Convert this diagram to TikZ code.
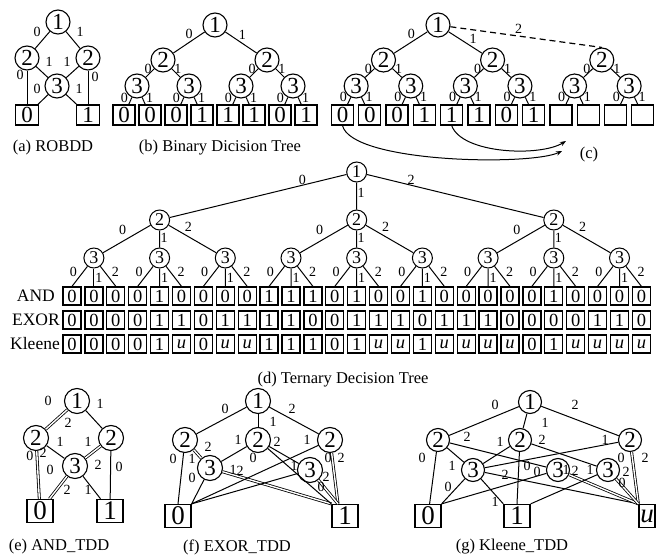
\documentclass[tikz,border=0pt]{standalone}
\usepackage{fontspec}
\setmainfont{Liberation Serif}
\usetikzlibrary{arrows.meta}
\newcommand\fbig{\fontsize{23}{23}\selectfont}
\newcommand\fmid{\fontsize{18}{18}\selectfont}
\newcommand\fcell{\fontsize{18.5}{18.5}\selectfont}
\newcommand\flab{\fontsize{14}{14}\selectfont}
\newcommand\fcap{\fontsize{16.5}{16.5}\selectfont}
\newcommand\fleaf{\fontsize{27}{27}\selectfont}
\newcommand\frow{\fontsize{17.5}{17.5}\selectfont}
\newcommand\uu{\textit{u}}
\tikzset{
  vA/.style={circle,draw,line width=1.1pt,minimum size=24pt,inner sep=0pt,font=\fbig},
  bA/.style={rectangle,draw,line width=1.3pt,minimum width=22pt,minimum height=20pt,inner sep=0pt,font=\fbig},
  vD/.style={circle,draw,line width=1pt,minimum size=20pt,inner sep=0pt,font=\fmid},
  cD/.style={rectangle,draw,line width=1.3pt,minimum width=18pt,minimum height=18pt,inner sep=0pt,font=\fcell},
  vE/.style={circle,draw,line width=1.1pt,minimum size=25pt,inner sep=0pt,font=\fbig},
  vG/.style={vE,minimum size=23pt},
  bE/.style={rectangle,draw,line width=1.3pt,minimum width=26pt,minimum height=23pt,inner sep=0pt,font=\fleaf},
  ed/.style={line width=1pt},
  dbl/.style={double,double distance=1.4pt,line width=0.8pt},
  el/.style={font=\flab,inner sep=0.5pt},
  captxt/.style={font=\fcap,inner sep=0pt},
  rowl/.style={font=\frow,inner sep=0pt,anchor=east},
  arr/.style={line width=1pt,-{Stealth[length=6pt,width=4.5pt]}},
}
\begin{document}
\begin{tikzpicture}[x=1pt,y=-1pt]
\useasboundingbox (0,0) rectangle (656,559);

% ---------- (a) ROBDD ----------
\node[vA] (a1) at (58,22) {1};
\node[vA] (a2l) at (27,58) {2};
\node[vA] (a2r) at (88,58) {2};
\node[vA] (a3) at (57,86) {3};
\node[bA,minimum width=23pt] (a0) at (27,115) {0};
\node[bA,minimum width=23pt] (a1b) at (88,115) {1};
\draw[ed] (a1) -- (a2l);
\draw[ed] (a1) -- (a2r);
\draw[ed] (a2l) -- (a3);
\draw[ed] (a2r) -- (a3);
\draw[ed] (a2l) -- (a0);
\draw[ed] (a2r) -- (a1b);
\draw[ed] (a3) -- (a0);
\draw[ed] (a3) -- (a1b);
\node[el] (la1) at (37,32) {0};
\node[el] (la2) at (80,32) {1};
\node[el] (la3) at (49,62) {1};
\node[el] (la4) at (67,62) {1};
\node[el] (la5) at (20,75) {0};
\node[el] (la6) at (95,77) {0};
\node[el] (la7) at (37,89) {0};
\node[el] (la8) at (79,89) {1};
\node[captxt] (capa) at (53,148) {(a) ROBDD};

% ---------- (b) Binary decision tree ----------
\foreach \v [count=\i from 0] in {0,0,0,1,1,1,0,1}
  \node[bA] (bb\i) at ({124+26*\i},115) {\v};
\node[vA] (b1) at (215,25) {1};
\node[vA] (b20) at (163,60) {2};
\node[vA] (b21) at (267,60) {2};
\foreach \k in {0,...,3} \node[vA] (b3\k) at ({137+52*\k},86) {3};
\draw[ed] (b1) -- node[el,pos=.35,above left]{0} (b20);
\draw[ed] (b1) -- node[el,pos=.4,above right]{1} (b21);
\foreach \j [evaluate=\j as \ia using int(2*\j), evaluate=\j as \ib using int(2*\j+1)] in {0,1} {
  \draw[ed] (b2\j) -- node[el,pos=.05,left=1pt]{0} (b3\ia);
  \draw[ed] (b2\j) -- node[el,pos=.05,right=1pt]{1} (b3\ib);
}
\foreach \k [evaluate=\k as \ia using int(2*\k), evaluate=\k as \ib using int(2*\k+1)] in {0,...,3} {
  \draw[ed] (b3\k) -- node[el,pos=0,left=3pt]{0} (bb\ia);
  \draw[ed] (b3\k) -- node[el,pos=0,right=3pt]{1} (bb\ib);
}
\node[captxt] (capb) at (220,148) {(b) Binary Dicision Tree};

% ---------- (c) ----------
\foreach \v [count=\i from 0] in {0,0,0,1,1,1,0,1,{},{},{},{}}
  \node[bA] (cb\i) at ({342.5+27.3*\i},115) {\v};
\node[vA] (c1) at (438,25) {1};
\node[vA] (c20) at (383.5,60) {2};
\node[vA] (c21) at (492.6,60) {2};
\node[vA] (c22) at (601.8,60) {2};
\foreach \k in {0,...,5} \node[vA] (c3\k) at ({356.15+54.6*\k},86) {3};
\draw[ed] (c1) -- node[el,pos=.35,above left]{0} (c20);
\draw[ed] (c1) -- node[el,pos=.6,above right]{1} (c21);
\draw[line width=1.2pt,dash pattern=on 6pt off 4pt] (c1.-8) -- node[el,pos=.45,above=1pt]{2} (c22.north);
\foreach \j [evaluate=\j as \ia using int(2*\j), evaluate=\j as \ib using int(2*\j+1)] in {0,1,2} {
  \draw[ed] (c2\j) -- node[el,pos=.05,left=1pt]{0} (c3\ia);
  \draw[ed] (c2\j) -- node[el,pos=.05,right=1pt]{1} (c3\ib);
}
\foreach \k [evaluate=\k as \ia using int(2*\k), evaluate=\k as \ib using int(2*\k+1)] in {0,...,5} {
  \draw[ed] (c3\k) -- node[el,pos=0,left=3pt]{0} (cb\ia);
  \draw[ed] (c3\k) -- node[el,pos=0,right=3pt]{1} (cb\ib);
}
\coordinate (ca) at (562,151);
\coordinate (cbb) at (566,141);
\draw[arr] (cb0.south) .. controls (352,163) and (530,166) .. (ca);
\draw[arr] (cb4.south) .. controls (462,154) and (540,157) .. (cbb);
\node[captxt] (capc) at (589,155) {(c)};

% ---------- (d) Ternary decision tree ----------
\node[vD] (d1) at (356.7,172) {1};
\foreach \j in {0,1,2} \node[vD] (d2\j) at ({159.6+197.1*\j},220) {2};
\foreach \k in {0,...,8} \node[vD] (d3\k) at ({93.9+65.7*\k},258) {3};
\foreach \v [count=\i from 0] in {0,0,0,0,1,0,0,0,0,1,1,1,0,1,0,0,1,0,0,0,0,0,1,0,0,0,0}
  \node[cD] (and\i) at ({72+21.9*\i},296) {\v};
\foreach \v [count=\i from 0] in {0,0,0,0,1,1,0,1,1,1,1,0,0,1,1,1,0,1,1,1,0,0,0,0,1,1,0}
  \node[cD] (exo\i) at ({72+21.9*\i},320) {\v};
\foreach \v [count=\i from 0] in {0,0,0,0,1,\uu,0,\uu,\uu,1,1,1,0,1,\uu,\uu,1,\uu,\uu,\uu,\uu,0,1,\uu,\uu,\uu,\uu}
  \node[cD] (kle\i) at ({72+21.9*\i},344) {\v};
\node[rowl] (rand) at (55,296) {AND};
\node[rowl] (rexo) at (60,320) {EXOR};
\node[rowl] (rkle) at (60,344) {Kleene};
\draw[ed] (d1) -- node[el,pos=.25,above]{0} (d20);
\draw[ed] (d1) -- node[el,pos=.4,right]{1} (d21);
\draw[ed] (d1) -- node[el,pos=.25,above]{2} (d22);
\foreach \j [evaluate=\j as \ia using int(3*\j), evaluate=\j as \ib using int(3*\j+1), evaluate=\j as \ic using int(3*\j+2)] in {0,1,2} {
  \draw[ed] (d2\j) -- node[el,pos=.45,above left=2pt]{0} (d3\ia);
  \draw[ed] (d2\j) -- node[el,pos=.45,right]{1} (d3\ib);
  \draw[ed] (d2\j) -- node[el,pos=.3,above right=1pt]{2} (d3\ic);
}
\foreach \k [evaluate=\k as \ia using int(3*\k), evaluate=\k as \ib using int(3*\k+1), evaluate=\k as \ic using int(3*\k+2)] in {0,...,8} {
  \draw[ed] (d3\k) -- node[el,pos=.3,left=5pt]{0} (and\ia.north);
  \draw[ed] (d3\k) -- node[el,pos=.5,right=.5pt]{1} (and\ib.north);
  \draw[ed] (d3\k) -- node[el,pos=.3,right=6pt]{2} (and\ic.north);
}
\node[captxt] (capd) at (343,380) {(d) Ternary Decision Tree};

% ---------- (e) AND_TDD ----------
\node[vE] (e1) at (77,401) {1};
\node[vE] (e2l) at (36,438) {2};
\node[vE] (e2r) at (111,438) {2};
\node[vE] (e3) at (75,466) {3};
\node[bE] (e0) at (40,511) {0};
\node[bE] (eb1) at (110,511) {1};
\draw[dbl] (e1) -- (e2l);
\draw[ed] (e1) -- (e2r);
\draw[ed] (e2l) -- (e3);
\draw[dbl] (e2r) -- (e3);
\draw[dbl] (e2l) -- (e0);
\draw[ed] (e2r) -- (eb1);
\draw[dbl] (e3) -- (e0);
\draw[ed] (e3) -- (eb1);
\node[el] (le1) at (48,401) {0};
\node[el] (le2) at (68,423) {2};
\node[el] (le3) at (100,404) {1};
\node[el] (le4) at (60,442) {1};
\node[el] (le5) at (88,442) {1};
\node[el] (le6) at (30,456) {0};
\node[el] (le7) at (43,453) {2};
\node[el] (le8) at (50,470) {0};
\node[el] (le9) at (98,465) {2};
\node[el] (le10) at (119,467) {0};
\node[el] (le11) at (67,490) {2};
\node[el] (le12) at (88,490) {1};
\node[captxt] (cape) at (59,547) {(e) AND\_TDD};

% ---------- (f) EXOR_TDD ----------
\node[vE] (f1) at (258,401) {1};
\node[vE] (f2l) at (185,440) {2};
\node[vE] (f2m) at (258,440) {2};
\node[vE] (f2r) at (330,440) {2};
\node[vE] (f3l) at (210,468) {3};
\node[vE] (f3r) at (310,470) {3};
\node[bE] (f0) at (178,516) {0};
\node[bE] (fb1) at (345,516) {1};
\draw[ed] (f1) -- (f2l);
\draw[ed] (f1) -- (f2m);
\draw[ed] (f1) -- (f2r);
\draw[ed] (f2l) -- (f0.north);
\draw[dbl] (f2l) -- (f3l);
\draw[ed] (f3l) -- (f0.north east);
\draw[dbl] (f3l) -- (fb1.north west);
\draw[ed] (f2m) -- (f3l);
\draw[ed] (f2m) -- (f3r);
\draw[ed] (f2m) -- (fb1.north west);
\draw[ed] (f2r) -- (f0.north east);
\draw[dbl] (f2r) -- (fb1.120);
\draw[ed] (f3r) -- (f0.north east);
\draw[dbl] (f3r) -- (fb1.120);
\node[el] (lf1) at (225,409) {0};
\node[el] (lf2) at (273,422) {1};
\node[el] (lf3) at (292,409) {2};
\node[el] (lf4) at (208,447) {2};
\node[el] (lf5) at (173,459) {0};
\node[el] (lf6) at (192,459) {1};
\node[el] (lf7) at (192,478) {0};
\node[el] (lf8) at (233,470) {1};
\node[el] (lf9) at (240,471) {2};
\node[el] (lf10) at (238,440) {1};
\node[el] (lf11) at (277,442) {2};
\node[el] (lf12) at (253,458) {0};
\node[el] (lf13) at (307,440) {1};
\node[el] (lf14) at (328,458) {0};
\node[el] (lf15) at (341,458) {2};
\node[el] (lf16) at (294,466) {1};
\node[el] (lf17) at (326,477) {2};
\node[el] (lf18) at (321,487) {0};
\node[captxt] (capf) at (237,547) {(f) EXOR\_TDD};

% ---------- (g) Kleene_TDD ----------
\node[vG] (g1) at (530,402) {1};
\node[vG] (g2l) at (438,440) {2};
\node[vG] (g2m) at (520,440) {2};
\node[vG] (g2r) at (630,440) {2};
\node[vG] (gA) at (473,470) {3};
\node[vG] (gB) at (558,470) {3};
\node[vG] (gC) at (608,470) {3};
\node[bE] (g0) at (428,516) {0};
\node[bE] (gb1) at (517,516) {1};
\node[bE,minimum width=16pt] (gu) at (647,516) {\uu};
\draw[ed] (g1) -- (g2l);
\draw[ed] (g1) -- (g2m);
\draw[ed] (g1) -- (g2r);
\draw[ed] (g2l) -- (g0);
\draw[ed] (g2l) -- (gA);
\draw[ed] (g2l) -- (gB);
\draw[ed] (g2m) -- (gA);
\draw[ed] (g2m) -- (gb1.north);
\draw[ed] (g2m) -- (gC);
\draw[ed] (g2r) -- (gA);
\draw[dbl] (g2r) -- (gu.north west);
\draw[ed] (gA) -- (g0.north east);
\draw[ed] (gA) -- (gb1.north west);
\draw[ed] (gA) -- (gu.north west);
\draw[ed] (gB) -- (g0.north east);
\draw[dbl] (gB) -- (gu.north west);
\draw[ed] (gC) -- (gb1.north east);
\draw[dbl] (gC) -- (gu.north west);
\node[el] (lg1) at (495,405) {0};
\node[el] (lg2) at (575,405) {2};
\node[el] (lg3) at (545,423) {1};
\node[el] (lg4) at (467,437) {2};
\node[el] (lg5) at (422,458) {0};
\node[el] (lg6) at (452,466) {1};
\node[el] (lg7) at (500,442) {1};
\node[el] (lg8) at (542,440) {2};
\node[el] (lg9) at (527,466) {0};
\node[el] (lg10) at (605,440) {1};
\node[el] (lg11) at (621,458) {0};
\node[el] (lg12) at (645,458) {2};
\node[el] (lg13) at (448,487) {0};
\node[el] (lg14) at (505,475) {2};
\node[el] (lg15) at (495,502) {1};
\node[el] (lg16) at (537,472) {0};
\node[el] (lg17) at (566,470) {1};
\node[el] (lg18) at (575,471) {2};
\node[el] (lg19) at (590,470) {1};
\node[el] (lg20) at (626,472) {2};
\node[el] (lg21) at (622,483) {0};
\node[captxt] (capg) at (512,547) {(g) Kleene\_TDD};
\end{tikzpicture}
\end{document}
